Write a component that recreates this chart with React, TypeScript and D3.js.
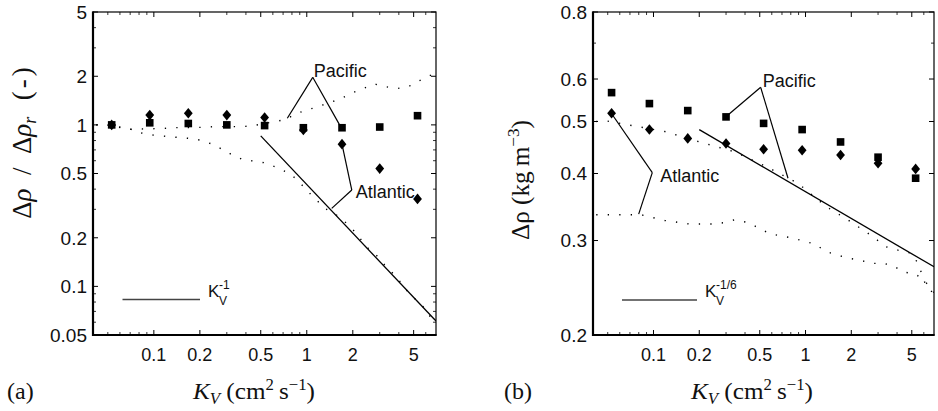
import React from "react";
import * as d3 from "d3";

// ---------- data ----------
const KV = [0.053, 0.094, 0.168, 0.3, 0.53, 0.95, 1.7, 3.0, 5.3];

// panel (a): normalised density difference
const RATIO_PACIFIC = [1.0, 1.03, 1.02, 1.0, 0.99, 0.96, 0.96, 0.97, 1.14];
const RATIO_ATLANTIC = [1.0, 1.15, 1.18, 1.15, 1.11, 0.93, 0.76, 0.536, 0.348];

// panel (b): density difference (kg m^-3)
const DRHO_PACIFIC = [0.566, 0.54, 0.524, 0.51, 0.496, 0.483, 0.458, 0.429, 0.392];
const DRHO_ATLANTIC = [0.518, 0.483, 0.465, 0.455, 0.444, 0.442, 0.433, 0.418, 0.408];

// dotted model curves, panel (a)
const A_PAC_K = [0.042, 0.049, 0.068, 0.115, 0.14, 0.21, 0.25, 0.364, 0.434, 0.617, 0.728, 0.863, 1.044, 1.41, 1.68, 1.99, 2.78, 3.31, 3.89, 4.59, 5.47, 6.53, 7.0];
const A_PAC_V = [1.0, 1.0, 0.94, 0.95, 0.962, 0.966, 0.975, 0.975, 0.984, 1.047, 1.08, 1.18, 1.25, 1.37, 1.46, 1.58, 1.79, 1.72, 1.68, 1.72, 1.88, 2.04, 2.08];
const A_ATL_K = [0.042, 0.049, 0.068, 0.0807, 0.0977, 0.14, 0.167, 0.2, 0.239, 0.28, 0.326, 0.385, 0.458, 0.545, 0.65, 0.773, 0.877, 0.993, 1.13, 1.31, 1.52, 1.82, 2.11, 2.45, 2.85, 3.31, 3.85, 4.48, 5.21, 6.06, 6.53, 7.0];
const A_ATL_V = [1.0, 1.0, 0.953, 0.895, 0.866, 0.838, 0.826, 0.806, 0.762, 0.706, 0.651, 0.607, 0.596, 0.58, 0.54, 0.5, 0.452, 0.395, 0.351, 0.304, 0.283, 0.246, 0.213, 0.176, 0.156, 0.132, 0.115, 0.095, 0.082, 0.0714, 0.063, 0.059];

// dotted model curves, panel (b)
const B_PAC_K = [0.042, 0.0477, 0.1186, 0.201, 0.342, 0.552, 0.893, 1.37, 1.905, 2.58, 3.4, 4.4, 5.0, 5.4, 5.8, 6.1, 7.0];
const B_PAC_V = [0.5, 0.502, 0.479, 0.458, 0.439, 0.412, 0.3835, 0.347, 0.3276, 0.3094, 0.292, 0.286, 0.284, 0.274, 0.261, 0.25, 0.238];
const B_ATL_K = [0.042, 0.0477, 0.0832, 0.1186, 0.173, 0.246, 0.294, 0.342, 0.419, 0.581, 0.828, 1.15, 1.37, 1.905, 2.28, 2.68, 3.2, 3.72, 4.4, 5.3, 6.24, 7.0];
const B_ATL_V = [0.335, 0.335, 0.335, 0.327, 0.322, 0.322, 0.324, 0.328, 0.324, 0.309, 0.303, 0.2955, 0.286, 0.278, 0.276, 0.272, 0.272, 0.27, 0.262, 0.26, 0.25, 0.24];

// power-law reference lines (end points)
const LAW_A_K = [0.5, 7];
const LAW_A_V = [0.855, 0.061];
const LAW_B_K = [0.2, 7];
const LAW_B_V = [0.483, 0.268];

// ticks
const X_TICKS = [0.1, 0.2, 0.5, 1, 2, 5];
const X_MINOR = [0.05, 0.06, 0.07, 0.08, 0.09, 0.3, 0.4, 0.6, 0.7, 0.8, 0.9, 3, 4, 6];
const Y_TICKS_A = [0.05, 0.1, 0.2, 0.5, 1, 2, 5];
const Y_MINOR_A = [0.06, 0.07, 0.08, 0.09, 0.3, 0.4, 0.6, 0.7, 0.8, 0.9, 3, 4];
const Y_TICKS_B = [0.2, 0.3, 0.4, 0.5, 0.6, 0.8];
const Y_MINOR_B = [0.7];

// annotation anchors (data coordinates)
const ANNOT_A = [
  { label: "Pacific", apex: [1.094, 1.97], ends: [[0.746, 1.1], [1.65, 0.99]], dx: 1, dy: 0 },
  { label: "Atlantic", apex: [1.97, 0.395], ends: [[1.72, 0.72], [1.456, 0.304]], dx: 4, dy: 8 },
];
const ANNOT_B = [
  { label: "Pacific", apex: [0.507, 0.579], ends: [[0.309, 0.514], [0.767, 0.392]], dx: 2, dy: 0 },
  { label: "Atlantic", apex: [0.0982, 0.4014], ends: [[0.0528, 0.518], [0.0799, 0.336]], dx: 8, dy: 9 },
];

const SANS = "'Liberation Sans', Arial, Helvetica, sans-serif";
const SERIF = "'Liberation Serif', 'Times New Roman', serif";

type Pt = [number, number];
const zip = (a: number[], b: number[]): Pt[] => a.map((v, i) => [v, b[i]] as Pt);

interface PanelProps {
  id: string;
  left: number;
  right: number;
  top: number;
  bottom: number;
  yDomain: [number, number];
  yTicks: number[];
  yMinor: number[];
  squares: number[];
  diamonds: number[];
  curves: Pt[][];
  law: Pt[];
  annotations: { label: string; apex: number[]; ends: number[][]; dx: number; dy: number }[];
  legendX: [number, number];
  legendY: number;
  legendSup: string;
}

function Panel(p: PanelProps) {
  const x = d3.scaleLog().domain([0.04, 7]).range([p.left, p.right]);
  const y = d3.scaleLog().domain(p.yDomain).range([p.bottom, p.top]);
  const line = d3
    .line<Pt>()
    .x((d) => x(d[0]))
    .y((d) => y(d[1]));
  const major = 5;
  const minor = 3;
  return (
    <g>
      <defs>
        <clipPath id={"clip" + p.id}>
          <rect x={p.left} y={p.top} width={p.right - p.left} height={p.bottom - p.top} />
        </clipPath>
      </defs>
      <g clipPath={`url(#clip${p.id})`}>
        {p.curves.map((c, i) => (
          <path key={i} d={line(c) || ""} fill="none" stroke="#000" strokeWidth={1.4} strokeDasharray="1.3,10.2" />
        ))}
        <path d={line(p.law) || ""} fill="none" stroke="#000" strokeWidth={1.3} />
      </g>
      {/* markers */}
      {KV.map((k, i) => (
        <rect key={"s" + i} x={x(k) - 3.8} y={y(p.squares[i]) - 3.8} width={7.6} height={7.6} fill="#000" />
      ))}
      {KV.map((k, i) => {
        const cx = x(k);
        const cy = y(p.diamonds[i]);
        return (
          <path key={"d" + i} d={`M${cx},${cy - 5.3}L${cx + 4.4},${cy}L${cx},${cy + 5.3}L${cx - 4.4},${cy}Z`} fill="#000" />
        );
      })}
      {/* annotations */}
      {p.annotations.map((a, i) => {
        const ax = x(a.apex[0]);
        const ay = y(a.apex[1]);
        return (
          <g key={"a" + i}>
            {a.ends.map((e, j) => (
              <line key={j} x1={ax} y1={ay} x2={x(e[0])} y2={y(e[1])} stroke="#000" strokeWidth={1.2} />
            ))}
            <text x={ax + a.dx} y={ay + a.dy} fontFamily={SANS} fontSize={18} fill="#111">
              {a.label}
            </text>
          </g>
        );
      })}
      {/* legend */}
      <line x1={p.legendX[0]} x2={p.legendX[1]} y1={p.legendY} y2={p.legendY} stroke="#444" strokeWidth={1.6} />
      <text x={p.legendX[1] + 8} y={p.legendY - 3} fontFamily={SANS} fontSize={17} fill="#111">
        K
      </text>
      <text x={p.legendX[1] + 19} y={p.legendY - 11} fontFamily={SANS} fontSize={12} fill="#111">
        {p.legendSup}
      </text>
      <text x={p.legendX[1] + 19} y={p.legendY + 5} fontFamily={SANS} fontSize={12} fill="#111">
        V
      </text>
      {/* box */}
      <rect x={p.left} y={p.top} width={p.right - p.left} height={p.bottom - p.top} fill="none" stroke="#000" strokeWidth={1.2} />
      <line x1={p.left} x2={p.left} y1={p.top - 0.6} y2={p.bottom + 1} stroke="#000" strokeWidth={2.2} />
      <line x1={p.left - 1} x2={p.right + 0.6} y1={p.bottom} y2={p.bottom} stroke="#000" strokeWidth={2.2} />
      {/* x ticks */}
      {X_TICKS.map((t) => (
        <g key={"xt" + t}>
          <line x1={x(t)} x2={x(t)} y1={p.bottom} y2={p.bottom - major} stroke="#000" strokeWidth={1} />
          <line x1={x(t)} x2={x(t)} y1={p.top} y2={p.top + major} stroke="#000" strokeWidth={1} />
          <text x={x(t)} y={p.bottom + 26} textAnchor="middle" fontFamily={SANS} fontSize={18} fill="#111">
            {String(t)}
          </text>
        </g>
      ))}
      {X_MINOR.map((t) => (
        <g key={"xm" + t}>
          <line x1={x(t)} x2={x(t)} y1={p.bottom} y2={p.bottom - minor} stroke="#000" strokeWidth={0.8} />
          <line x1={x(t)} x2={x(t)} y1={p.top} y2={p.top + minor} stroke="#000" strokeWidth={0.8} />
        </g>
      ))}
      {/* y ticks */}
      {p.yTicks.map((t) => (
        <g key={"yt" + t}>
          <line x1={p.left} x2={p.left + major} y1={y(t)} y2={y(t)} stroke="#000" strokeWidth={1} />
          <line x1={p.right} x2={p.right - major} y1={y(t)} y2={y(t)} stroke="#000" strokeWidth={1} />
          <text x={p.left - 6} y={y(t)} dy="0.36em" textAnchor="end" fontFamily={SANS} fontSize={19} fill="#111">
            {String(t)}
          </text>
        </g>
      ))}
      {p.yMinor.map((t) => (
        <g key={"ym" + t}>
          <line x1={p.left} x2={p.left + minor} y1={y(t)} y2={y(t)} stroke="#000" strokeWidth={0.8} />
          <line x1={p.right} x2={p.right - minor} y1={y(t)} y2={y(t)} stroke="#000" strokeWidth={0.8} />
        </g>
      ))}
    </g>
  );
}

function XLabel({ x, y }: { x: number; y: number }) {
  return (
    <text x={x} y={y} fontFamily={SERIF} fontSize={24} fill="#111" textLength={122} lengthAdjust="spacingAndGlyphs">
      <tspan fontStyle="italic">K</tspan>
      <tspan fontStyle="italic" fontSize={16} dy={5}>V</tspan>
      <tspan dy={-5}>{"\u00a0(cm"}</tspan>
      <tspan fontSize={16} dy={-9}>2</tspan>
      <tspan dy={9}>{"\u2009s"}</tspan>
      <tspan fontSize={16} dy={-9}>{"\u22121"}</tspan>
      <tspan dy={9}>)</tspan>
    </text>
  );
}

export default function App() {
  return (
    <svg width={938} height={411} viewBox="0 0 938 411" style={{ position: "absolute", left: 0, top: 0, background: "#fff" }}>
      <rect x={0} y={0} width={938} height={411} fill="#fff" />
      <Panel
        id="a"
        left={93}
        right={436}
        top={12}
        bottom={335}
        yDomain={[0.05, 5]}
        yTicks={Y_TICKS_A}
        yMinor={Y_MINOR_A}
        squares={RATIO_PACIFIC}
        diamonds={RATIO_ATLANTIC}
        curves={[zip(A_PAC_K, A_PAC_V), zip(A_ATL_K, A_ATL_V)]}
        law={zip(LAW_A_K, LAW_A_V)}
        annotations={ANNOT_A}
        legendX={[122.5, 200]}
        legendY={299.5}
        legendSup="-1"
      />
      <Panel
        id="b"
        left={593}
        right={934}
        top={12}
        bottom={335}
        yDomain={[0.2, 0.8]}
        yTicks={Y_TICKS_B}
        yMinor={Y_MINOR_B}
        squares={DRHO_PACIFIC}
        diamonds={DRHO_ATLANTIC}
        curves={[zip(B_PAC_K, B_PAC_V), zip(B_ATL_K, B_ATL_V)]}
        law={zip(LAW_B_K, LAW_B_V)}
        annotations={ANNOT_B}
        legendX={[622, 697]}
        legendY={300}
        legendSup="-1/6"
      />
      {/* y labels */}
      <text
        transform="translate(31,141.5) rotate(-90)"
        textAnchor="middle"
        fontFamily={SERIF}
        fontSize={27}
        fill="#111"
      >
        <tspan>Δ</tspan>
        <tspan fontStyle="italic">ρ</tspan>
        <tspan>{"\u2002/\u2002Δ"}</tspan>
        <tspan fontStyle="italic">ρ</tspan>
        <tspan fontStyle="italic" fontSize={18} dy={5}>r</tspan>
        <tspan dy={-5} letterSpacing={3}>{"\u2002(-)"}</tspan>
      </text>
      <text
        transform="translate(529,180) rotate(-90)"
        textAnchor="middle"
        fontFamily={SERIF}
        fontSize={25}
        fill="#111"
        textLength={120}
        lengthAdjust="spacingAndGlyphs"
      >
        <tspan>Δρ</tspan>
        <tspan>{"\u00a0(kg\u2009m"}</tspan>
        <tspan fontSize={17} dy={-10}>{"\u22123"}</tspan>
        <tspan dy={10}>)</tspan>
      </text>
      {/* x labels */}
      <XLabel x={193} y={399} />
      <XLabel x={691} y={399} />
      <text x={7} y={399} fontFamily={SERIF} fontSize={24} fill="#111">(a)</text>
      <text x={504} y={399} fontFamily={SERIF} fontSize={24} fill="#111">(b)</text>
    </svg>
  );
}
